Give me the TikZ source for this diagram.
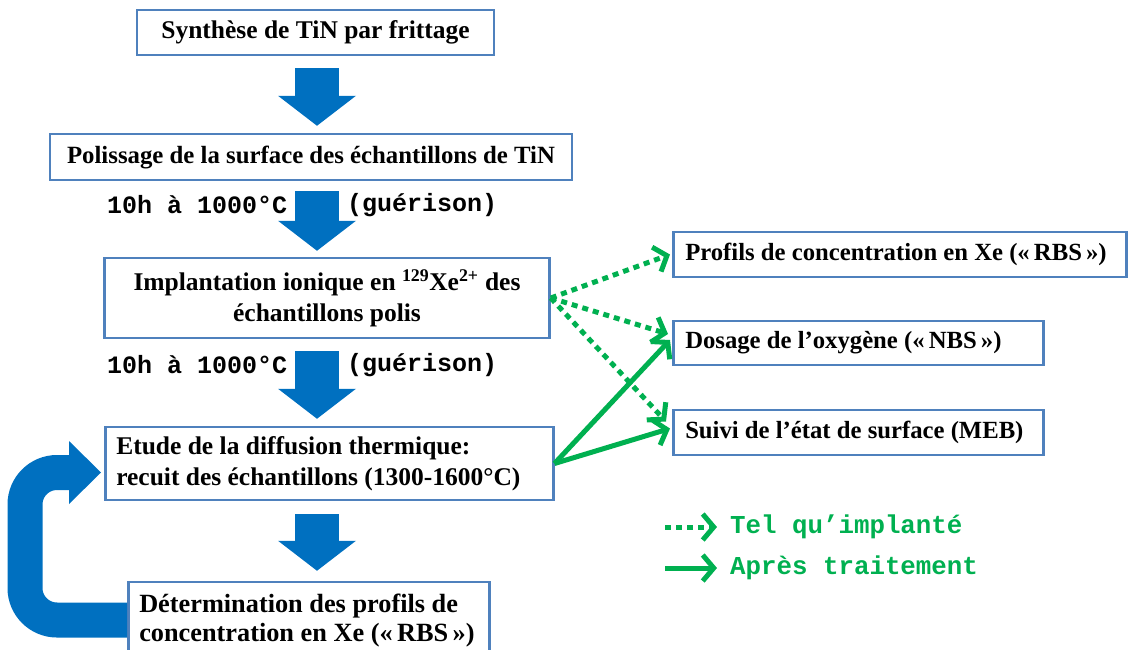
\documentclass[tikz,border=0pt]{standalone}
\usepackage{fontspec}
\setmainfont{Liberation Serif}
\setmonofont{Liberation Mono}
\usetikzlibrary{arrows.meta,calc}
\definecolor{boxblue}{RGB}{79,129,189}
\definecolor{arrblue}{RGB}{0,112,192}
\definecolor{grn}{RGB}{0,176,80}
\begin{document}
\begin{tikzpicture}[x=1pt,y=-1pt,
  box/.style={draw=boxblue, line width=2.5pt, fill=white, inner sep=0pt,
    font=\fontsize{25.5}{31}\selectfont\bfseries, align=center},
  lbox/.style={box, anchor=west, align=flush left, inner xsep=12pt},
  rbox/.style={lbox, font=\fontsize{24.7}{31}\selectfont\bfseries},
  blk/.style={draw=arrblue, line width=44pt,
    -{Triangle[length=30pt,width=78pt,line width=0pt]}},
  loopar/.style={draw=arrblue, line width=35pt, rounded corners=32pt,
    -{Triangle[length=32pt,width=63pt,line width=0pt]}},
  gsolid/.style={draw=grn, line width=5pt,
    -{Straight Barb[length=11pt,width=26pt]}},
  gdot/.style={gsolid, dash pattern=on 6pt off 5pt},
  mono/.style={font=\fontsize{25}{28}\selectfont\ttfamily\bfseries, anchor=west, inner sep=0pt},
  leg/.style={font=\fontsize{25.8}{28}\selectfont\ttfamily\bfseries, text=grn, anchor=west, inner sep=0pt}]
\useasboundingbox (0,0) rectangle (1130,649);

% main boxes
\node[box, minimum width=357pt, minimum height=45pt] (b1) at (315.5,32.5) {Synthèse de TiN par frittage};
\node[box, minimum width=522pt, minimum height=46pt, font=\fontsize{24.8}{31}\selectfont\bfseries] (b2) at (311,157) {Polissage de la surface des échantillons de TiN};
\node[box, minimum width=445pt, minimum height=80pt] (b3) at (327,298) {Implantation ionique en \textsuperscript{129}Xe\textsuperscript{2+} des\\échantillons polis};
\node[lbox, text width=426pt, minimum height=73pt, inner xsep=11pt] (b4) at (104,463.5) {\mbox{Etude de la diffusion thermique:}\\\mbox{recuit des échantillons (1300-1600°C)}};
\node[lbox, text width=339pt, minimum height=78pt, inner xsep=11pt, font=\fontsize{26.3}{29}\selectfont\bfseries] (b5) at (127,621) {\mbox{Détermination des profils de}\\\mbox{concentration en Xe (\guillemotleft\,RBS\,\guillemotright)}};

% right boxes
\node[rbox, text width=429pt, minimum height=45pt] (r1) at (672,254.5) {\mbox{Profils de concentration en Xe (\guillemotleft\,RBS\,\guillemotright)}};
\node[rbox, text width=346pt, minimum height=44pt] (r2) at (672,343) {\mbox{Dosage de l’oxygène (\guillemotleft\,NBS\,\guillemotright)}};
\node[rbox, text width=346pt, minimum height=45pt] (r3) at (672,432.5) {\mbox{Suivi de l’état de surface (MEB)}};

% block arrows
\coordinate (ax) at (317,0);
\draw[blk] ([yshift=-12pt]b1.south -| ax) -- ([yshift=7pt]b2.north -| ax);
\draw[blk] ([yshift=-10pt]b2.south -| ax) -- ([yshift=6pt]b3.north -| ax);
\draw[blk] ([yshift=-12pt]b3.south -| ax) -- ([yshift=7pt]b4.north -| ax);
\draw[blk] ([yshift=-13pt]b4.south -| ax) -- ([yshift=10pt]b5.north -| ax);

% loop arrow
\coordinate (lx) at (25,0);
\draw[loopar] ([yshift=1pt]b5.west) -- ([yshift=1pt]b5.west -| lx) -- ([yshift=-9pt]b4.west -| lx) -- ([xshift=-3pt,yshift=-9pt]b4.west);

% annealing labels
\node[mono] (t1) at (107,205) {10h à 1000°C};
\node[mono] (g1) at (347,205) {(guérison)};
\node[mono] (t2) at (107,365) {10h à 1000°C};
\node[mono] (g2) at (347,365) {(guérison)};

% green connectors
\draw[gdot] (b3.east) -- ([xshift=-2pt]r1.west);
\draw[gdot] (b3.east) -- ([xshift=-4pt,yshift=9pt]r2.west);
\draw[gdot] (b3.east) -- ([xshift=-6pt,yshift=11pt]r3.west);
\draw[gsolid] (b4.east) -- ([xshift=-2pt,yshift=3pt]r2.west);
\draw[gsolid] (b4.east) -- ([xshift=-2pt,yshift=4pt]r3.west);

% legend
\coordinate (l1s) at (665,527);
\coordinate (l1e) at (717,527);
\coordinate (l2s) at (665,568);
\coordinate (l2e) at (717,568);
\draw[gdot] (l1s) -- (l1e);
\draw[gsolid] (l2s) -- (l2e);
\node[leg] (lt1) at (730,527) {Tel qu’implanté};
\node[leg] (lt2) at (730,568) {Après traitement};
\end{tikzpicture}
\end{document}
